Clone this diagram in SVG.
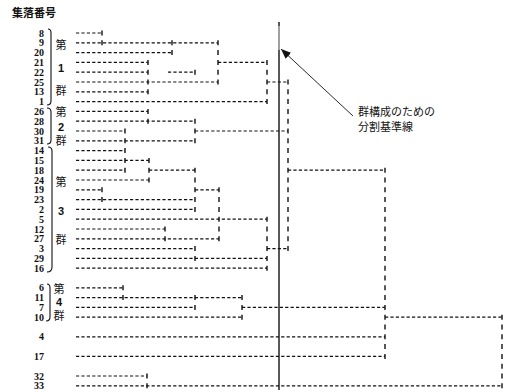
<svg xmlns="http://www.w3.org/2000/svg" width="510" height="392" viewBox="0 0 510 392">
<style>
.h{stroke:#111;stroke-width:1.2;stroke-dasharray:3.2 2.2;fill:none}
.v{stroke:#111;stroke-width:1.4;stroke-dasharray:5 4.8;fill:none}
.lbl{font-family:"Liberation Serif",serif;font-size:10px;font-weight:bold;fill:#111;text-anchor:end}
.gn{font-family:"Noto Sans CJK JP",sans-serif;font-size:11px;fill:#111;text-anchor:middle}
.gd{font-family:"Liberation Sans",sans-serif;font-size:11px;font-weight:bold;fill:#111;text-anchor:middle}
.br{stroke:#111;stroke-width:1.1;fill:none}
.jp{font-family:"Noto Sans CJK JP",sans-serif;font-size:11px;fill:#111}
</style>
<defs>
<marker id="ah" markerUnits="userSpaceOnUse" markerWidth="11" markerHeight="8" refX="10" refY="4" orient="auto"><path d="M0,0 L10,4 L0,8 z" fill="#111"/></marker>
</defs>
<rect width="510" height="392" fill="#fff"/>
<g id="title"><text x="12" y="17" style="font-family:'Noto Sans CJK JP',sans-serif;font-size:11px;font-weight:bold;fill:#111">集落番号</text></g>

<g id="leaves">
<g id="leaf-8"><text class="lbl" x="44" y="36.5">8</text></g>
<g id="leaf-9"><text class="lbl" x="44" y="46.3">9</text></g>
<g id="leaf-20"><text class="lbl" x="44" y="56.1">20</text></g>
<g id="leaf-21"><text class="lbl" x="44" y="65.9">21</text></g>
<g id="leaf-22"><text class="lbl" x="44" y="75.7">22</text></g>
<g id="leaf-25"><text class="lbl" x="44" y="85.5">25</text></g>
<g id="leaf-13"><text class="lbl" x="44" y="95.3">13</text></g>
<g id="leaf-1"><text class="lbl" x="44" y="105.1">1</text></g>
<g id="leaf-26"><text class="lbl" x="44" y="114.9">26</text></g>
<g id="leaf-28"><text class="lbl" x="44" y="124.7">28</text></g>
<g id="leaf-30"><text class="lbl" x="44" y="134.5">30</text></g>
<g id="leaf-31"><text class="lbl" x="44" y="144.3">31</text></g>
<g id="leaf-14"><text class="lbl" x="44" y="154.1">14</text></g>
<g id="leaf-15"><text class="lbl" x="44" y="163.9">15</text></g>
<g id="leaf-18"><text class="lbl" x="44" y="173.7">18</text></g>
<g id="leaf-24"><text class="lbl" x="44" y="183.5">24</text></g>
<g id="leaf-19"><text class="lbl" x="44" y="193.3">19</text></g>
<g id="leaf-23"><text class="lbl" x="44" y="203.1">23</text></g>
<g id="leaf-2"><text class="lbl" x="44" y="212.9">2</text></g>
<g id="leaf-5"><text class="lbl" x="44" y="222.7">5</text></g>
<g id="leaf-12"><text class="lbl" x="44" y="232.5">12</text></g>
<g id="leaf-27"><text class="lbl" x="44" y="242.3">27</text></g>
<g id="leaf-3"><text class="lbl" x="44" y="252.1">3</text></g>
<g id="leaf-29"><text class="lbl" x="44" y="261.9">29</text></g>
<g id="leaf-16"><text class="lbl" x="44" y="271.7">16</text></g>
<g id="leaf-6"><text class="lbl" x="44" y="291.3">6</text></g>
<g id="leaf-11"><text class="lbl" x="44" y="301.1">11</text></g>
<g id="leaf-7"><text class="lbl" x="44" y="310.9">7</text></g>
<g id="leaf-10"><text class="lbl" x="44" y="320.7">10</text></g>
<g id="leaf-4"><text class="lbl" x="44" y="340.3">4</text></g>
<g id="leaf-17"><text class="lbl" x="44" y="359.9">17</text></g>
<g id="leaf-32"><text class="lbl" x="44" y="379.5">32</text></g>
<g id="leaf-33"><text class="lbl" x="44" y="389.3">33</text></g>
</g>

<g id="group-1"><path class="br" d="M48,29 Q51,29 51,33 V101 Q51,105 47,105"/><text class="gn" x="61" y="49">第</text><text class="gd" x="61" y="72">1</text><text class="gn" x="61" y="95">群</text></g>
<g id="group-2"><path class="br" d="M47,108 Q51,108 51,112 V140 Q51,144 47,144"/><text class="gn" x="61" y="116">第</text><text class="gd" x="61" y="131">2</text><text class="gn" x="61" y="145">群</text></g>
<g id="group-3"><path class="br" d="M48,147 Q52,147 52,151 V267 Q52,272 47,272"/><text class="gn" x="61" y="186">第</text><text class="gd" x="61" y="215">3</text><text class="gn" x="61" y="244">群</text></g>
<g id="group-4"><path class="br" d="M47,284 Q50,284 50,288 V317 Q50,321 46,321"/><text class="gn" x="59" y="293">第</text><text class="gd" x="59" y="306">4</text><text class="gn" x="59" y="320">群</text></g>

<g id="connectors">
<line class="h" x1="76" y1="33" x2="102" y2="33"/>
<line class="h" x1="76" y1="42.8" x2="218" y2="42.8"/>
<line class="h" x1="76" y1="52.6" x2="172" y2="52.6"/>
<line class="h" x1="76" y1="62.4" x2="148" y2="62.4"/>
<line class="h" x1="218" y1="62.4" x2="267" y2="62.4"/>
<line class="h" x1="76" y1="72.2" x2="148" y2="72.2"/>
<line class="h" x1="168" y1="72.2" x2="195" y2="72.2"/>
<line class="h" x1="76" y1="82" x2="218" y2="82"/>
<line class="h" x1="267" y1="82" x2="288" y2="82"/>
<line class="h" x1="76" y1="91.8" x2="148" y2="91.8"/>
<line class="h" x1="76" y1="101.6" x2="267" y2="101.6"/>
<line class="h" x1="76" y1="111.4" x2="148" y2="111.4"/>
<line class="h" x1="76" y1="121.2" x2="195" y2="121.2"/>
<line class="h" x1="76" y1="131" x2="125" y2="131"/>
<line class="h" x1="195" y1="131" x2="288" y2="131"/>
<line class="h" x1="76" y1="140.8" x2="195" y2="140.8"/>
<line class="h" x1="76" y1="150.6" x2="125" y2="150.6"/>
<line class="h" x1="76" y1="160.4" x2="149" y2="160.4"/>
<line class="h" x1="76" y1="170.2" x2="125" y2="170.2"/>
<line class="h" x1="149" y1="170.2" x2="195" y2="170.2"/>
<line class="h" x1="288" y1="170.2" x2="385" y2="170.2"/>
<line class="h" x1="76" y1="180" x2="149" y2="180"/>
<line class="h" x1="76" y1="189.8" x2="102" y2="189.8"/>
<line class="h" x1="195" y1="189.8" x2="219" y2="189.8"/>
<line class="h" x1="76" y1="199.6" x2="195" y2="199.6"/>
<line class="h" x1="76" y1="209.4" x2="195" y2="209.4"/>
<line class="h" x1="76" y1="219.2" x2="267" y2="219.2"/>
<line class="h" x1="76" y1="229" x2="165" y2="229"/>
<line class="h" x1="76" y1="238.8" x2="219" y2="238.8"/>
<line class="h" x1="76" y1="248.6" x2="195" y2="248.6"/>
<line class="h" x1="267" y1="248.6" x2="288" y2="248.6"/>
<line class="h" x1="76" y1="258.4" x2="267" y2="258.4"/>
<line class="h" x1="76" y1="268.2" x2="267" y2="268.2"/>
<line class="h" x1="76" y1="287.8" x2="123" y2="287.8"/>
<line class="h" x1="76" y1="297.6" x2="242" y2="297.6"/>
<line class="h" x1="76" y1="307.4" x2="195" y2="307.4"/>
<line class="h" x1="242" y1="307.4" x2="385" y2="307.4"/>
<line class="h" x1="76" y1="317.2" x2="242" y2="317.2"/>
<line class="h" x1="385" y1="317.2" x2="502" y2="317.2"/>
<line class="h" x1="76" y1="336.8" x2="385" y2="336.8"/>
<line class="h" x1="76" y1="356.4" x2="385" y2="356.4"/>
<line class="h" x1="76" y1="376" x2="147" y2="376"/>
<line class="h" x1="76" y1="385.8" x2="502" y2="385.8"/>

<line class="v" x1="102" y1="30.5" x2="102" y2="45.3"/>
<line class="v" x1="172" y1="40.3" x2="172" y2="55.1"/>
<line class="v" x1="218" y1="40.3" x2="218" y2="84.5"/>
<line class="v" x1="148" y1="59.9" x2="148" y2="74.7"/>
<line class="v" x1="148" y1="79.5" x2="148" y2="94.3"/>
<line class="v" x1="195" y1="69.7" x2="195" y2="74.7"/>
<line class="v" x1="267" y1="59.9" x2="267" y2="104.1"/>
<line class="v" x1="288" y1="79.5" x2="288" y2="251.1"/>
<line class="v" x1="148" y1="108.9" x2="148" y2="123.7"/>
<line class="v" x1="125" y1="128.5" x2="125" y2="143.3"/>
<line class="v" x1="195" y1="118.7" x2="195" y2="143.3"/>
<line class="v" x1="125" y1="148.1" x2="125" y2="172.7"/>
<line class="v" x1="149" y1="157.9" x2="149" y2="182.5"/>
<line class="v" x1="195" y1="167.7" x2="195" y2="211.9"/>
<line class="v" x1="102" y1="187.3" x2="102" y2="202.1"/>
<line class="v" x1="219" y1="187.3" x2="219" y2="241.3"/>
<line class="v" x1="165" y1="226.5" x2="165" y2="241.3"/>
<line class="v" x1="195" y1="246.1" x2="195" y2="260.9"/>
<line class="v" x1="267" y1="216.7" x2="267" y2="270.7"/>
<line class="v" x1="123" y1="285.3" x2="123" y2="300.1"/>
<line class="v" x1="195" y1="295.1" x2="195" y2="309.9"/>
<line class="v" x1="242" y1="295.1" x2="242" y2="319.7"/>
<line class="v" x1="385" y1="167.7" x2="385" y2="358.9"/>
<line class="v" x1="502" y1="314.7" x2="502" y2="388.3"/>
<line class="v" x1="147" y1="373.5" x2="147" y2="388.3"/>
</g>

<g id="cut-line">
<line x1="279" y1="22" x2="279" y2="26" stroke="#111" stroke-width="1.4"/>
<line x1="279" y1="26" x2="279" y2="50" stroke="#777" stroke-width="1.4"/>
<line x1="279" y1="50" x2="279" y2="390" stroke="#111" stroke-width="1.4"/>
<line x1="353" y1="116" x2="281" y2="49" stroke="#111" stroke-width="0.9" marker-end="url(#ah)"/>
<text class="jp" x="358" y="116">群構成のための</text>
<text class="jp" x="358" y="131">分割基準線</text>
</g>
</svg>
